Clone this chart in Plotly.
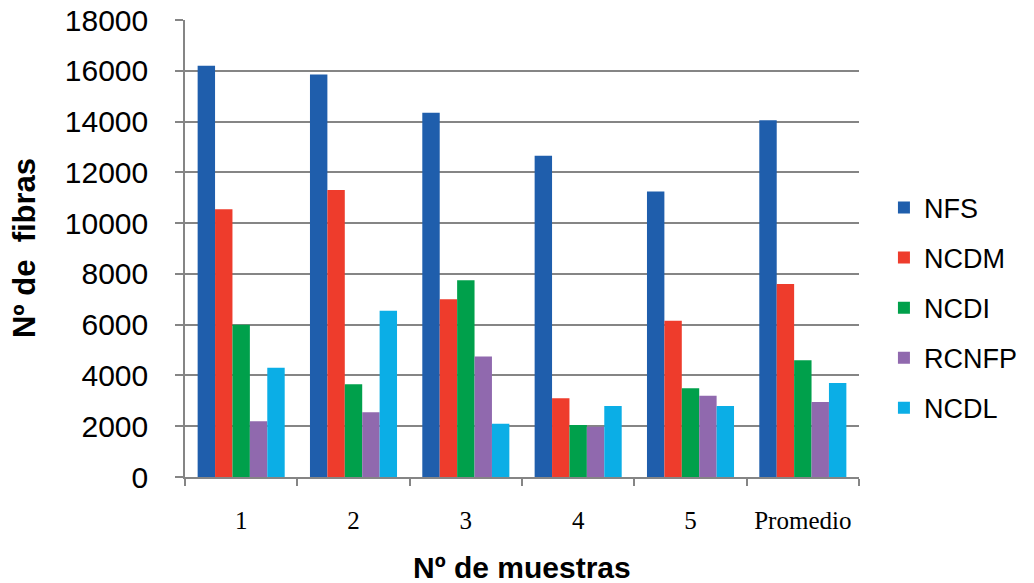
import plotly.graph_objects as go

# Sample labels and measured fibre counts per series
muestras = ["1", "2", "3", "4", "5", "Promedio"]
nfs = [16200, 15850, 14350, 12650, 11250, 14050]
ncdm = [10550, 11300, 7000, 3100, 6150, 7600]
ncdi = [6000, 3650, 7750, 2050, 3500, 4600]
rcnfp = [2200, 2550, 4750, 1980, 3200, 2950]
ncdl = [4300, 6550, 2100, 2800, 2800, 3700]

series = [
    ("NFS", nfs, "#1F5EAC"),
    ("NCDM", ncdm, "#EE3C2C"),
    ("NCDI", ncdi, "#00A04B"),
    ("RCNFP", rcnfp, "#9069AE"),
    ("NCDL", ncdl, "#0BAEE6"),
]

SANS = "Liberation Sans, Arial, sans-serif"

fig = go.Figure()
for name, vals, color in series:
    fig.add_trace(go.Bar(
        x=muestras, y=vals, name=name, legendgroup=name,
        marker=dict(color=color, line=dict(width=0)),
    ))

fig.update_layout(
    width=1034, height=583,
    margin=dict(l=185, r=175, t=20, b=106, autoexpand=False),
    plot_bgcolor="white", paper_bgcolor="white",
    barmode="group", bargap=0.225, bargroupgap=0,
    font=dict(family=SANS, color="black"),
    legend=dict(
        x=1.037, y=0.37, xanchor="left", yanchor="middle",
        font=dict(size=27, family=SANS),
        tracegroupgap=12, itemwidth=30,
    ),
    showlegend=True,
)

fig.update_yaxes(
    range=[0, 18000], dtick=2000, tickformat="d", automargin=False,
    showgrid=True, gridcolor="#858585", gridwidth=1.5,
    showline=True, linecolor="#858585", linewidth=1.5,
    ticks="outside", ticklen=8, tickcolor="#858585", tickwidth=1.5,
    tickfont=dict(size=30, family=SANS),
    ticklabelstandoff=21, zeroline=False,
)
fig.update_xaxes(
    automargin=False,
    showline=True, linecolor="#858585", linewidth=1.5,
    ticks="outside", tickson="boundaries", ticklen=7,
    tickcolor="#858585", tickwidth=1.5,
    tickfont=dict(size=25, family="Liberation Serif, Cambria, serif"),
    ticklabelstandoff=20,
)

fig.add_annotation(
    text="<b>Nº de  fibras</b>", textangle=-90,
    xref="paper", yref="paper", x=-0.238, y=0.5,
    xanchor="center", yanchor="middle", showarrow=False,
    font=dict(size=31, family=SANS),
)
fig.add_annotation(
    text="<b>Nº de muestras</b>",
    xref="paper", yref="paper", x=0.5, y=-0.197,
    xanchor="center", yanchor="middle", showarrow=False,
    font=dict(size=30, family=SANS),
)

fig.write_html("out.html")
